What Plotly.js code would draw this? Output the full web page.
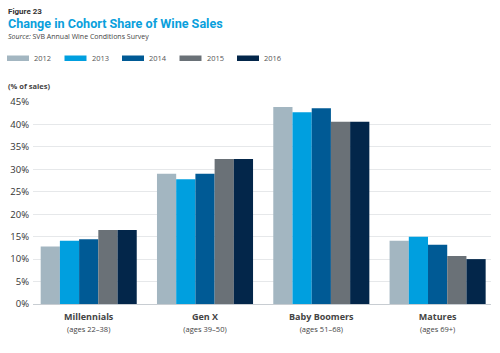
<!DOCTYPE html>
<html>
<head>
<meta charset="utf-8">
<script src="https://cdn.plot.ly/plotly-3.0.1.min.js"></script>
<style>
html,body{margin:0;padding:0;background:#fff;}
#chart{width:500px;height:353px;}
</style>
</head>
<body>
<div id="chart"></div>
<script>
const categories = ["Millennials", "Gen X", "Baby Boomers", "Matures"];
const ageRanges = ["(ages 22–38)", "(ages 39–50)", "(ages 51–68)", "(ages 69+)"];
const years = ["2012", "2013", "2014", "2015", "2016"];
const colors = ["#a3b6c1", "#009fdf", "#005a95", "#6a7177", "#03264a"];
const v2012 = [12.8, 29.0, 43.9, 14.1];
const v2013 = [14.1, 27.8, 42.7, 15.0];
const v2014 = [14.4, 29.0, 43.6, 13.2];
const v2015 = [16.5, 32.3, 40.6, 10.7];
const v2016 = [16.5, 32.3, 40.6, 10.0];
const series = [v2012, v2013, v2014, v2015, v2016];
const yTicks = [0, 5, 10, 15, 20, 25, 30, 35, 40, 45];

const FONT = "Open Sans, sans-serif";
const W = 500, H = 353;
const mL = 33, mR = 9, mT = 102, mB = 49;
const pw = W - mL - mR, ph = H - mT - mB;

const traces = series.map((vals, i) => ({
  type: "bar",
  name: years[i],
  x: categories,
  y: vals,
  marker: {color: colors[i], line: {width: 0}},
  hoverinfo: "x+y+name",
  showlegend: false
}));

// paper coords helpers
const px = x => (x - mL) / pw;
const py = y => (H - mB - y) / ph;

const shapes = [];
const annotations = [];
// custom legend built from series names/colors
years.forEach((yr, i) => {
  const x0 = 7 + i * 57.5;
  shapes.push({type: "rect", xref: "paper", yref: "paper",
    x0: px(x0), x1: px(x0 + 22), y0: py(61), y1: py(55.5),
    fillcolor: colors[i], line: {width: 0}});
  annotations.push({xref: "paper", yref: "paper", x: px(x0 + 25), y: py(58.3),
    xanchor: "left", yanchor: "middle", showarrow: false, text: yr,
    font: {family: FONT, size: 7.5, color: "#555"}});
});
// titles
annotations.push({xref: "paper", yref: "paper", x: px(6), y: py(11.5), xanchor: "left", yanchor: "middle",
  showarrow: false, text: "<b>Figure 23</b>", font: {family: "Liberation Sans Narrow, Roboto, sans-serif", size: 8, color: "#333"}});
annotations.push({xref: "paper", yref: "paper", x: px(5.5), y: py(23.5), xanchor: "left", yanchor: "middle",
  showarrow: false, text: "<b>Change in Cohort Share of Wine Sales</b>", font: {family: "Liberation Sans Narrow, Roboto, sans-serif", size: 12.6, color: "#0aa0dc"}});
annotations.push({xref: "paper", yref: "paper", x: px(6), y: py(36.5), xanchor: "left", yanchor: "middle",
  showarrow: false, text: "<i>Source:</i> SVB Annual Wine Conditions Survey", font: {family: FONT, size: 7, color: "#444"}});
annotations.push({xref: "paper", yref: "paper", x: px(6), y: py(86), xanchor: "left", yanchor: "middle",
  showarrow: false, text: "<b>(% of sales)</b>", font: {family: FONT, size: 7.5, color: "#444"}});

const layout = {
  width: W, height: H,
  margin: {l: mL, r: mR, t: mT, b: mB, pad: 0},
  paper_bgcolor: "#fff", plot_bgcolor: "#fff",
  barmode: "group", bargap: 0.174, bargroupgap: 0,
  showlegend: false,
  font: {family: FONT, color: "#444"},
  xaxis: {
    type: "category",
    range: [-0.479, 3.459],
    tickmode: "array",
    tickvals: categories,
    ticktext: categories.map((c, i) => "<b>" + c + "</b><br><span style='font-size:7.5px'>" + ageRanges[i] + "</span>"),
    tickfont: {family: FONT, size: 9, color: "#444"},
    showgrid: false, zeroline: false,
    showline: true, linecolor: "#c8cdd2", linewidth: 1,
    ticks: "", ticklabelstandoff: 4, fixedrange: true
  },
  yaxis: {
    range: [0, 45],
    tickmode: "array",
    tickvals: yTicks,
    ticktext: yTicks.map(t => t + "%"),
    tickfont: {family: FONT, size: 9.5, color: "#333"},
    showgrid: true, gridcolor: "#e6e8ea", gridwidth: 1,
    zeroline: false, showline: false, ticks: "",
    ticklabelstandoff: 3,
    fixedrange: true
  },
  shapes: shapes,
  annotations: annotations
};

Plotly.newPlot("chart", traces, layout, {displayModeBar: false, staticPlot: true});
</script>
</body>
</html>
